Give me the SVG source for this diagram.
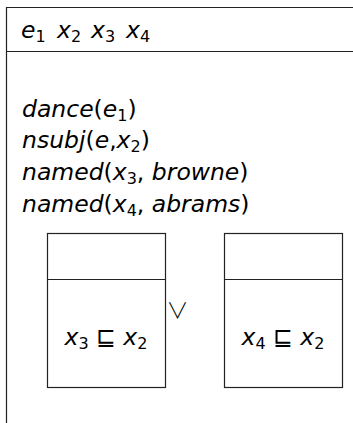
<svg xmlns="http://www.w3.org/2000/svg" width="353" height="423" viewBox="0 0 353 423">
<style>
text{font-family:"DejaVu Sans",sans-serif;font-size:23.5px;fill:#000}
.i{font-style:italic}
.s{font-size:16px}
.b{fill:none;stroke:#222;stroke-width:1.2}
.or{font-family:"Noto Sans CJK JP",sans-serif;font-size:22px;font-weight:300}
</style>
<rect width="353" height="423" fill="#fff"/>
<g id="outer">
<path class="b" d="M6.5,430 V7.5 H360 M6.5,51.5 H360"/>
<text x="21" y="38" class="i">e<tspan class="s" font-style="normal" dy="4">1</tspan></text>
<text x="57" y="38" class="i">x<tspan class="s" font-style="normal" dy="4">2</tspan></text>
<text x="91" y="38" class="i">x<tspan class="s" font-style="normal" dy="4">3</tspan></text>
<text x="126" y="38" class="i">x<tspan class="s" font-style="normal" dy="4">4</tspan></text>
<text x="22" y="117"><tspan class="i">dance</tspan>(<tspan class="i">e</tspan><tspan class="s" dy="4">1</tspan><tspan dy="-4">)</tspan></text>
<text x="22" y="148"><tspan class="i">nsubj</tspan>(<tspan class="i">e</tspan>,<tspan class="i">x</tspan><tspan class="s" dy="4">2</tspan><tspan dy="-4">)</tspan></text>
<text x="22" y="180"><tspan class="i">named</tspan>(<tspan class="i">x</tspan><tspan class="s" dy="4">3</tspan><tspan dy="-4">, </tspan><tspan class="i">browne</tspan>)</text>
<text x="22" y="212"><tspan class="i">named</tspan>(<tspan class="i">x</tspan><tspan class="s" dy="4">4</tspan><tspan dy="-4">, </tspan><tspan class="i">abrams</tspan>)</text>
<text class="or" x="177.5" y="318" text-anchor="middle">∨</text>
</g>
<g id="box1">
<rect class="b" x="47.5" y="233.5" width="118" height="154"/>
<path class="b" d="M47.5,279.5 H165.5"/>
<text x="106" y="345" text-anchor="middle"><tspan class="i">x</tspan><tspan class="s" dy="4">3</tspan><tspan dy="-4"> ⊑ </tspan><tspan class="i">x</tspan><tspan class="s" dy="4">2</tspan></text>
</g>
<g id="box2">
<rect class="b" x="224.5" y="233.5" width="118" height="154"/>
<path class="b" d="M224.5,279.5 H342.5"/>
<text x="283" y="345" text-anchor="middle"><tspan class="i">x</tspan><tspan class="s" dy="4">4</tspan><tspan dy="-4"> ⊑ </tspan><tspan class="i">x</tspan><tspan class="s" dy="4">2</tspan></text>
</g>
<g id="connectors"></g>
</svg>
